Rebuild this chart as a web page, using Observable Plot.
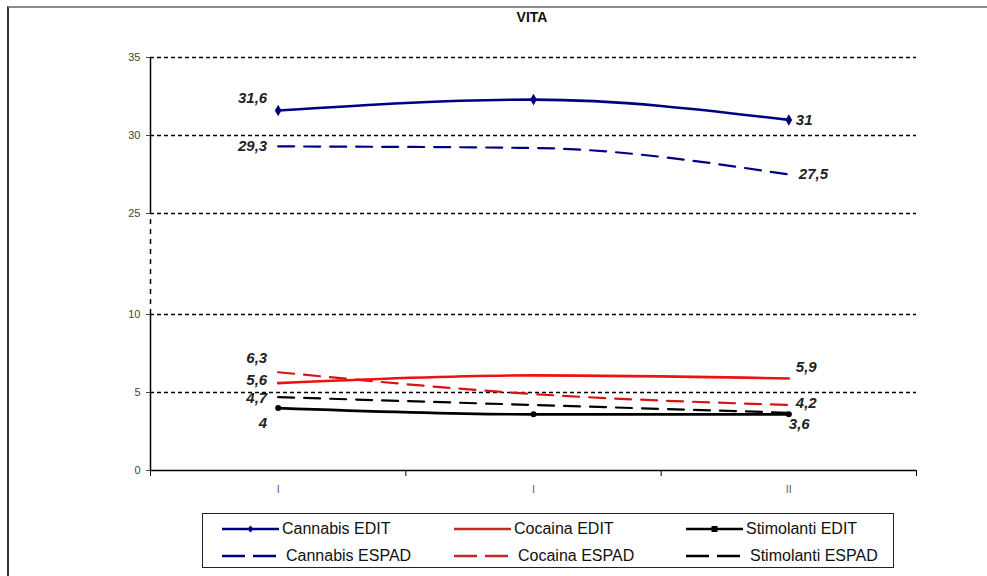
<!DOCTYPE html>
<html><head><meta charset="utf-8">
<script src="https://cdn.jsdelivr.net/npm/d3@7"></script>
<script src="https://cdn.jsdelivr.net/npm/@observablehq/plot@0.6"></script>
<style>
body{margin:0;background:#fff;font-family:"Liberation Sans",Arial,sans-serif}
#wrap{position:relative;width:987px;height:576px;overflow:hidden;background:#fff}
#frame{position:absolute;left:7px;top:6px;width:1000px;height:600px;border-top:2px solid #8c8c8c;border-left:2px solid #333}
#title{position:absolute;top:9px;left:432px;width:200px;text-align:center;font-weight:bold;font-size:14px;color:#111}
#chart{position:absolute;left:0;top:0}
#legend{position:absolute;left:202px;top:513px;width:692px;height:55px;border:1px solid #222;box-sizing:border-box}
.item{position:absolute;display:flex;align-items:center;font-size:16px;color:#111;height:20px;white-space:nowrap}
.item svg{margin-right:2px}
</style></head>
<body>
<div id="wrap">
  <div id="frame"></div>
  <div id="chart"></div>
  <div id="title">VITA</div>
  <div id="legend"></div>
</div>
<script>
// ---- data ----
const periods = ["I", "I", "II"];
const series = ["Cannabis EDIT", "Cannabis ESPAD", "Cocaina EDIT", "Cocaina ESPAD", "Stimolanti EDIT", "Stimolanti ESPAD"];
const cannabisEdit = [31.6, 32.3, 31];
const cannabisEspad = [29.3, 29.2, 27.5];
const cocainaEdit = [5.6, 6.1, 5.9];
const cocainaEspad = [6.3, 4.9, 4.2];
const stimolantiEdit = [4, 3.6, 3.6];
const stimolantiEspad = [4.7, 4.2, 3.7];
const yTicks = [0, 5, 10, 25, 30, 35];
const gridValues = [5, 10, 25, 30, 35];

// ---- styles ----
const values = [cannabisEdit, cannabisEspad, cocainaEdit, cocainaEspad, stimolantiEdit, stimolantiEspad];
const colors = ["#000080", "#000080", "#ee1111", "#d41515", "#000000", "#000000"];
const legendColors = ["#000080", "#000080", "#c0282a", "#c0282a", "#000000", "#000000"];
const rows = series.flatMap((s, k) => values[k].map((v, i) => ({series: s, i, v})));
const isEdit = d => d.series.endsWith("EDIT");
const fmt = v => String(v).replace(".", ",");
const px = d => d.i + 0.5;

const leftDy = {"Cannabis EDIT": -12, "Cannabis ESPAD": 0, "Cocaina EDIT": -3, "Cocaina ESPAD": -14, "Stimolanti EDIT": 15, "Stimolanti ESPAD": 1};
const rightDy = {"Cannabis EDIT": 0, "Cannabis ESPAD": 0, "Cocaina EDIT": -11, "Cocaina ESPAD": -2, "Stimolanti EDIT": 10};
const rightDx = {"Cannabis EDIT": 7, "Cannabis ESPAD": 10, "Cocaina EDIT": 7, "Cocaina ESPAD": 7, "Stimolanti EDIT": 0};

const labelStyle = {fontSize: 15, fontWeight: "bold", fontStyle: "italic", fill: "#222"};

const labelMarks = [];
for (const s of series) {
  labelMarks.push(Plot.text(rows.filter(d => d.series === s && d.i === 0),
    {x: px, y: "v", text: d => fmt(d.v), textAnchor: "end", dx: -11, dy: leftDy[s], ...labelStyle}));
  if (s in rightDy) {
    labelMarks.push(Plot.text(rows.filter(d => d.series === s && d.i === 2),
      {x: px, y: "v", text: d => fmt(d.v), textAnchor: "start", dx: rightDx[s], dy: rightDy[s], ...labelStyle}));
  }
}

const chart = Plot.plot({
  width: 987,
  height: 500,
  marginLeft: 150,
  marginRight: 71,
  marginTop: 57,
  marginBottom: 30,
  style: {fontFamily: "Liberation Sans, Arial, sans-serif", background: "transparent"},
  x: {type: "linear", domain: [0, 3]},
  y: {type: "linear", domain: [0, 10, 25, 35], range: [470, 314, 213, 57]},
  color: {domain: series, range: colors},
  marks: [
    Plot.ruleY(gridValues, {x1: 0, x2: 3, stroke: "#000", strokeWidth: 1.3, strokeDasharray: "4,3"}),
    Plot.ruleX([0], {y1: 0, y2: 10, stroke: "#000", strokeWidth: 1.5}),
    Plot.ruleX([0], {y1: 25, y2: 35, stroke: "#000", strokeWidth: 1.5}),
    Plot.ruleX([0], {y1: 10, y2: 25, stroke: "#000", strokeWidth: 1.5, strokeDasharray: "5,5"}),
    Plot.ruleY([0], {x1: 0, x2: 3, stroke: "#000", strokeWidth: 1.5}),
    Plot.axisY({ticks: yTicks, tickSize: 4, tickPadding: 6, fontSize: 11, color: "#444", label: null, tickFormat: d => d}),
    Plot.axisX({ticks: [0, 1, 2, 3], tickSize: 6, tickFormat: () => "", label: null, stroke: "#000"}),
    Plot.axisX({ticks: [0.5, 1.5, 2.5], tickSize: 0, tickPadding: 15, fontSize: 11, color: "#666", label: null, tickFormat: t => periods[Math.round(t - 0.5)]}),
    Plot.line(rows.filter(d => !isEdit(d)), {x: px, y: "v", z: "series", stroke: "series", strokeWidth: 2.2, strokeDasharray: "16,10", curve: "monotone-x"}),
    Plot.line(rows.filter(isEdit), {x: px, y: "v", z: "series", stroke: "series", strokeWidth: 2.6, curve: "monotone-x"}),
    Plot.dot(rows.filter(d => d.series === "Cannabis EDIT"), {x: px, y: "v", symbol: "diamond", r: 3.5, fill: "#000080"}),
    Plot.dot(rows.filter(d => d.series === "Stimolanti EDIT"), {x: px, y: "v", symbol: "circle", r: 3, fill: "#000"}),
    ...labelMarks
  ]
});
document.getElementById("chart").appendChild(chart);

// ---- legend ----
const legend = document.getElementById("legend");
const lineX = [19, 251, 483];
const rowY = [5, 32];
series.forEach((s, k) => {
  const col = Math.floor(k / 2), row = k % 2;
  const div = document.createElement("div");
  div.className = "item";
  div.style.left = lineX[col] + "px";
  div.style.top = rowY[row] + "px";
  const dashed = row === 1;
  let marker = "";
  if (s === "Cannabis EDIT") marker = `<path d="M28.5,5.5 L31.5,9 L28.5,12.5 L25.5,9Z" fill="${legendColors[k]}"/>`;
  if (s === "Stimolanti EDIT") marker = `<rect x="25.5" y="6" width="6" height="6" fill="#000"/>`;
  const line = dashed
    ? `<line x1="0" x2="54" y1="9" y2="9" stroke="${legendColors[k]}" stroke-width="2.5" stroke-dasharray="23,8"/>`
    : `<line x1="0" x2="57" y1="9" y2="9" stroke="${legendColors[k]}" stroke-width="2.5"/>`;
  div.innerHTML = `<svg width="${dashed ? 62 : 58}" height="18">${line}${marker}</svg><span>${s}</span>`;
  legend.appendChild(div);
});
</script>
</body></html>
